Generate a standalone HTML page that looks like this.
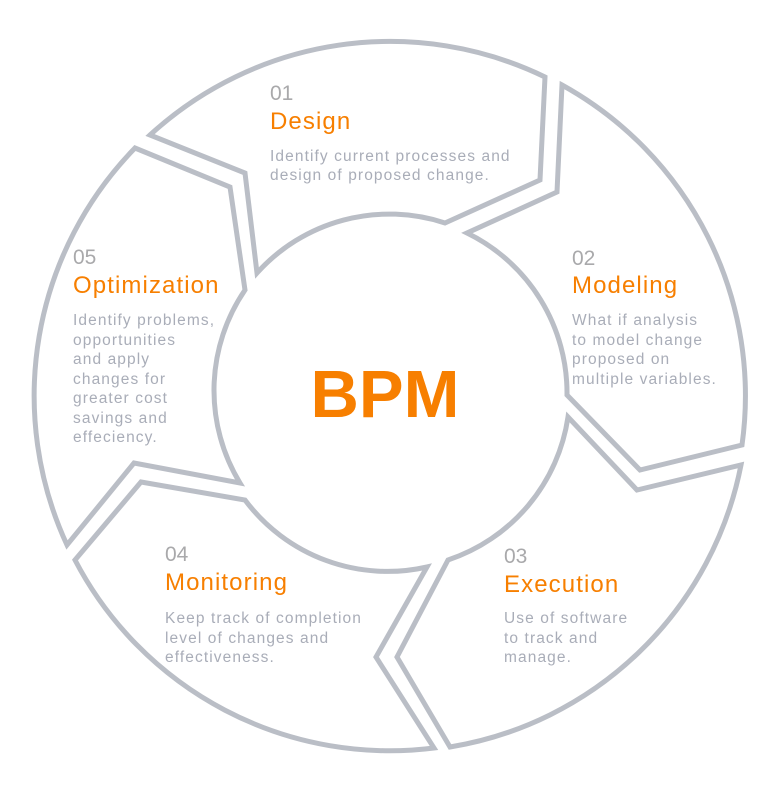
<!DOCTYPE html>
<html><head><style>
html,body{margin:0;padding:0;background:#fff;}
svg{display:block;}
.n{font-family:"Liberation Sans",sans-serif;font-size:21px;fill:#a9a9ab;}
.t{font-family:"Liberation Sans",sans-serif;font-size:24px;letter-spacing:1.1px;fill:#f77f00;}
.d{font-family:"Liberation Sans",sans-serif;font-size:15.5px;letter-spacing:1.1px;fill:#a9adb8;}
</style></head><body>
<svg width="780" height="793" viewBox="0 0 780 793" xmlns="http://www.w3.org/2000/svg">
<g fill="none" stroke="#babec6" stroke-width="5" stroke-linejoin="miter">
<path d="M150,135 A355,355 0 0 1 545,77 L540,180 L445,223 A178,178 0 0 0 257,273 L245,173 Z"/>
<path d="M562,85 A355,355 0 0 1 742,445 L640,470 L567,395 A178,178 0 0 0 467,233 L557,192 Z"/>
<path d="M568,417 L637,490 L741,465 A355,355 0 0 1 450,747 L397,657 L448,560 A178,178 0 0 0 568,417 Z"/>
<path d="M75,560 A355,355 0 0 0 434,748 L376,657 L427,567 A178,178 0 0 1 245,500 L141,482 Z"/>
<path d="M67,545 A355,355 0 0 1 135,148 L230,187 L245,290 A178,178 0 0 0 240,483 L134,463 Z"/>
</g>
<text x="385" y="417" text-anchor="middle" font-family="Liberation Sans,sans-serif" font-weight="bold" font-size="67" fill="#f77f00">BPM</text>

<text class="n" x="270" y="100">01</text>
<text class="t" x="270" y="129">Design</text>
<text class="d" x="270" y="161">Identify current processes and</text>
<text class="d" x="270" y="180">design of proposed change.</text>

<text class="n" x="572" y="265">02</text>
<text class="t" x="572" y="293">Modeling</text>
<text class="d" x="572" y="325">What if analysis</text>
<text class="d" x="572" y="345">to model change</text>
<text class="d" x="572" y="364">proposed on</text>
<text class="d" x="572" y="384">multiple variables.</text>

<text class="n" x="73" y="264">05</text>
<text class="t" x="73" y="293">Optimization</text>
<text class="d" x="73" y="325">Identify problems,</text>
<text class="d" x="73" y="345">opportunities</text>
<text class="d" x="73" y="364">and apply</text>
<text class="d" x="73" y="384">changes for</text>
<text class="d" x="73" y="403">greater cost</text>
<text class="d" x="73" y="423">savings and</text>
<text class="d" x="73" y="442">effeciency.</text>

<text class="n" x="165" y="561">04</text>
<text class="t" x="165" y="590">Monitoring</text>
<text class="d" x="165" y="623">Keep track of completion</text>
<text class="d" x="165" y="643">level of changes and</text>
<text class="d" x="165" y="662">effectiveness.</text>

<text class="n" x="504" y="563">03</text>
<text class="t" x="504" y="592">Execution</text>
<text class="d" x="504" y="623">Use of software</text>
<text class="d" x="504" y="643">to track and</text>
<text class="d" x="504" y="662">manage.</text>
</svg>
</body></html>
